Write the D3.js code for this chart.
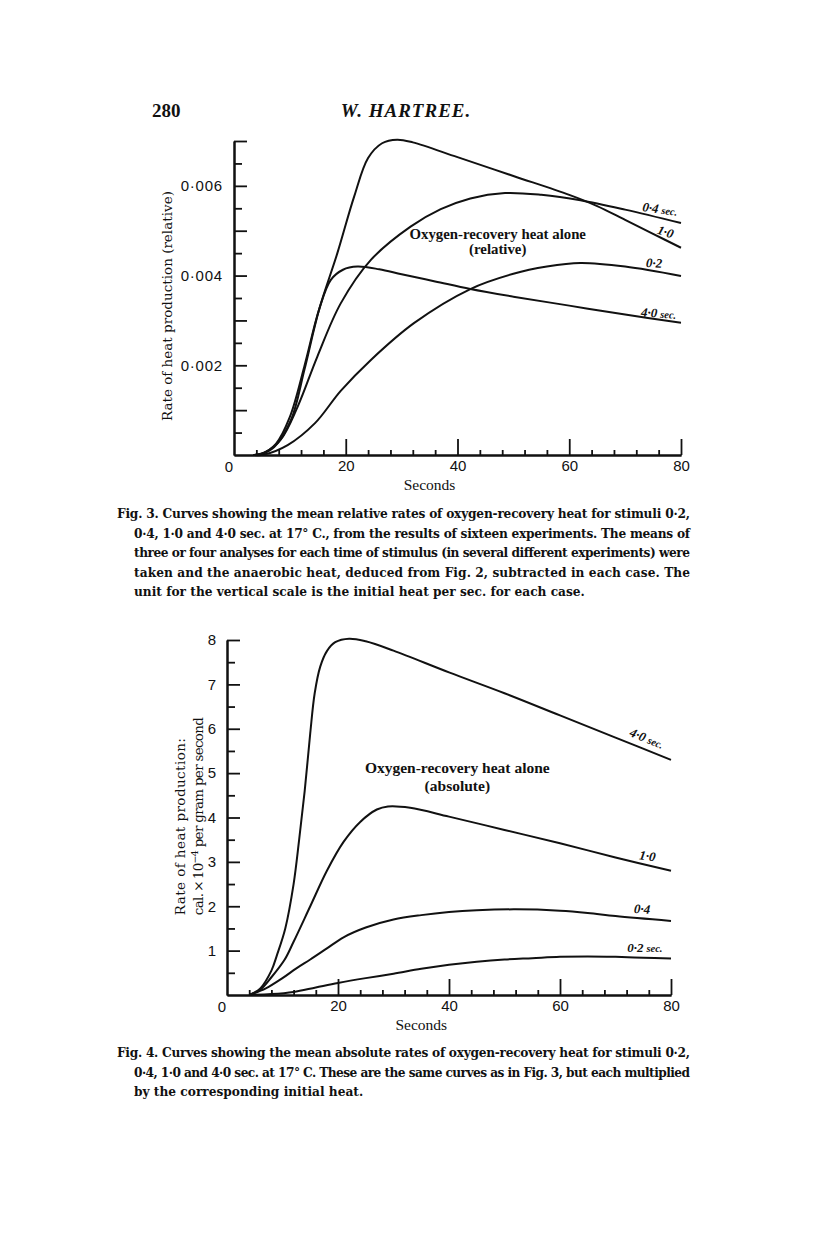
<!DOCTYPE html>
<html>
<head>
<meta charset="utf-8">
<script src="https://cdn.jsdelivr.net/npm/d3@7"></script>
<style>
  body { margin: 0; background: #fff; }
  svg { display: block; }
  .serif { font-family: "Liberation Serif", "DejaVu Serif", serif; fill: #111; }
  .wide { font-family: "DejaVu Serif", "Liberation Serif", serif; fill: #111; }
  .tick text { font-family: "Liberation Sans", Arial, sans-serif; font-size: 15px; fill: #111; }
</style>
</head>
<body>
<svg id="page" width="816" height="1258"></svg>
<script>
// Fig. 3 - relative rates (seconds, value)
let rel02 = [[3.5,0],[5.4,0.00001],[9.6,0.00022],[14.5,0.00071],[19.1,0.00143],[24.5,0.00212],[32.2,0.00294],[42.3,0.0037],[50,0.00404],[56,0.0042],[62,0.00428],[70,0.0042],[80,0.00399]];
let rel04 = [[3.5,0],[5.4,0.00005],[8.4,0.00035],[11.4,0.00108],[14.9,0.00219],[19.1,0.00338],[24.5,0.00435],[31.6,0.00509],[37,0.00548],[42.3,0.00572],[48.5,0.00584],[55,0.0058],[62,0.00568],[70,0.00547],[80,0.00517]];
let rel10 = [[3.5,0],[4.8,0.00002],[7.2,0.00018],[10.2,0.00078],[12.6,0.0019],[15.2,0.00323],[18.5,0.0045],[21.5,0.00576],[24,0.00662],[26.5,0.00695],[29.2,0.00703],[32,0.00697],[40,0.00664],[50,0.00622],[60,0.0058],[65,0.00555],[70,0.00524],[75,0.00493],[80,0.00462]];
let rel40 = [[3.5,0],[5,0.00003],[7.5,0.00025],[10,0.00085],[12.6,0.00198],[15.2,0.00323],[17.3,0.0039],[19.5,0.00413],[22.1,0.0042],[26,0.00414],[30,0.00403],[36,0.00387],[42.3,0.0037],[50,0.00353],[60,0.00333],[70,0.00313],[80,0.00295]];

// Fig. 4 - absolute rates (seconds, cal. x 10^-4 per gram per second)
let abs02 = [[4,0],[8,0.02],[12,0.07],[16,0.17],[20,0.27],[25,0.38],[30,0.48],[35,0.59],[40,0.68],[45,0.75],[50,0.8],[55,0.83],[60,0.86],[65,0.87],[70,0.86],[75,0.84],[80,0.82]];
let abs04 = [[4,0],[7,0.15],[10,0.38],[12.5,0.6],[15,0.8],[18,1.05],[21,1.3],[25,1.52],[30,1.7],[35,1.8],[40,1.87],[45,1.91],[52,1.93],[60,1.9],[65,1.85],[70,1.78],[80,1.67]];
let abs10 = [[4,0],[6,0.12],[8,0.4],[10.4,0.8],[12,1.2],[15,2],[18,2.8],[21,3.45],[24,3.9],[27,4.18],[29,4.25],[33,4.22],[40,4.02],[50,3.72],[60,3.42],[70,3.1],[80,2.8]];
let abs40 = [[4,0],[6,0.15],[8,0.55],[9,0.9],[10.5,1.5],[12,2.5],[13,3.5],[14,4.6],[15,5.9],[15.8,6.8],[16.8,7.4],[18,7.75],[19.5,7.95],[22,8.03],[25,7.97],[30,7.76],[40,7.27],[50,6.8],[60,6.3],[70,5.8],[80,5.3]];

let xMajor = [20, 40, 60, 80];
let xMinor = d3.range(4, 80, 4).filter(d => d % 20 != 0);
let topMajor = [0.001, 0.002, 0.003, 0.004, 0.005, 0.006, 0.007];
let topMinor = [0.0005, 0.0015, 0.0025, 0.0035, 0.0045, 0.0055, 0.0065];
let topLabels = [0.002, 0.004, 0.006];
let botMajor = [1, 2, 3, 4, 5, 6, 7, 8];
let botMinor = [0.5, 1.5, 2.5, 3.5, 4.5, 5.5, 6.5, 7.5];

let caption3 = [
  "Fig. 3.  Curves showing the mean relative rates of oxygen-recovery heat for stimuli 0·2,",
  "0·4, 1·0 and 4·0 sec. at 17° C., from the results of sixteen experiments. The means of",
  "three or four analyses for each time of stimulus (in several different experiments) were",
  "taken and the anaerobic heat, deduced from Fig. 2, subtracted in each case. The",
  "unit for the vertical scale is the initial heat per sec. for each case."
];
let caption4 = [
  "Fig. 4.  Curves showing the mean absolute rates of oxygen-recovery heat for stimuli 0·2,",
  "0·4, 1·0 and 4·0 sec. at 17° C. These are the same curves as in Fig. 3, but each multiplied",
  "by the corresponding initial heat."
];

let svg = d3.select("#page");
let dot = d => d.replace(".", "·");

// header
svg.append("text").attr("class", "serif").attr("x", 152).attr("y", 117)
  .attr("font-size", "19px").attr("font-weight", "bold").text("280");
svg.append("text").attr("class", "serif").attr("x", 406).attr("y", 117)
  .attr("text-anchor", "middle").attr("font-size", "19px").attr("font-weight", "bold")
  .attr("font-style", "italic").attr("letter-spacing", "1").text("W. HARTREE.");

function drawAxes(x, y, major, minor, labels, fmt) {
  let g = svg.append("g");
  // x axis, ticks pointing up
  g.append("g").attr("transform", "translate(0," + y.range()[0] + ")")
    .call(d3.axisTop(x).tickValues(xMinor).tickSize(5).tickFormat("").tickSizeOuter(0));
  g.append("g").attr("transform", "translate(0," + y.range()[0] + ")")
    .call(d3.axisTop(x).tickValues(xMajor).tickSize(16).tickFormat("").tickSizeOuter(0));
  g.append("g").attr("transform", "translate(0," + y.range()[0] + ")")
    .call(d3.axisBottom(x).tickValues(xMajor).tickSize(0).tickPadding(5).tickSizeOuter(0))
    .select(".domain").remove();
  // y axis, ticks pointing right
  g.append("g").attr("transform", "translate(" + x.range()[0] + ",0)")
    .call(d3.axisRight(y).tickValues(minor).tickSize(8).tickFormat("").tickSizeOuter(0));
  g.append("g").attr("transform", "translate(" + x.range()[0] + ",0)")
    .call(d3.axisRight(y).tickValues(major).tickSize(13).tickFormat("").tickSizeOuter(0));
  g.append("g").attr("class", "ylab").attr("transform", "translate(" + x.range()[0] + ",0)")
    .call(d3.axisLeft(y).tickValues(labels).tickSize(0).tickPadding(11).tickFormat(fmt).tickSizeOuter(0))
    .select(".domain").remove();
  g.selectAll("path.domain").attr("stroke", "#111").attr("stroke-width", 2);
  g.selectAll(".tick line").attr("stroke", "#111").attr("stroke-width", 1.8);
  // origin label
  g.append("text").attr("x", x(0) - 5).attr("y", y(0) + 17).attr("text-anchor", "middle")
    .attr("font-family", "Liberation Sans, Arial, sans-serif").attr("font-size", "15px")
    .attr("fill", "#111").text("0");
  // x label
  g.append("text").attr("class", "serif").attr("x", x(35)).attr("y", y(0) + 35)
    .attr("text-anchor", "middle").attr("font-size", "15.5px").text("Seconds");
  return g;
}

function drawCurves(x, y, series) {
  let line = d3.line().x(d => x(d[0])).y(d => y(d[1])).curve(d3.curveCatmullRom.alpha(0.5));
  svg.append("g").selectAll("path").data(series).join("path")
    .attr("d", line).attr("fill", "none").attr("stroke", "#111").attr("stroke-width", 2);
}

function curveLabel(x, y, t, v, rot, num, unit) {
  let tx = svg.append("text").attr("class", "serif")
    .attr("transform", "translate(" + x(t) + "," + y(v) + ") rotate(" + rot + ")")
    .attr("font-style", "italic").attr("font-weight", "bold").attr("font-size", "13px").text(num);
  if (unit) tx.append("tspan").attr("font-size", "10.5px").attr("dx", 3).text(unit);
}

function drawCaption(lines, y0) {
  lines.forEach((s, i) => {
    let t = svg.append("text").attr("class", "wide").attr("x", i == 0 ? 117 : 134)
      .attr("y", y0 + i * 19.6).attr("font-size", "12.2px").attr("font-weight", "bold").text(s);
    if (i < lines.length - 1) t.attr("textLength", i == 0 ? 573 : 556).attr("lengthAdjust", "spacing");
  });
}

// ---- Fig. 3 ----
let xTop = d3.scaleLinear().domain([0, 80]).range([234, 681]);
let yTop = d3.scaleLinear().domain([0, 0.007]).range([455, 141]);
let gTop = drawAxes(xTop, yTop, topMajor, topMinor, topLabels, d => dot(d3.format(".3f")(d)));
gTop.selectAll(".ylab .tick text").attr("letter-spacing", 0.8);
drawCurves(xTop, yTop, [rel02, rel04, rel10, rel40]);
svg.append("text").attr("class", "wide").attr("transform", "translate(172," + yTop(0.00332) + ") rotate(-90)")
  .attr("text-anchor", "middle").attr("font-size", "13.5px").attr("textLength", 230)
  .text("Rate of heat production (relative)");
svg.append("text").attr("class", "serif").attr("x", xTop(47.2)).attr("y", yTop(0.00481))
  .attr("text-anchor", "middle").attr("font-size", "14.8px").attr("font-weight", "bold").text("Oxygen-recovery heat alone");
svg.append("text").attr("class", "serif").attr("x", xTop(47.2)).attr("y", yTop(0.00447))
  .attr("text-anchor", "middle").attr("font-size", "14.8px").attr("font-weight", "bold").text("(relative)");
curveLabel(xTop, yTop, 73.0, 0.00544, 8, "0·4", "sec.");
curveLabel(xTop, yTop, 75.6, 0.00494, 18, "1·0");
curveLabel(xTop, yTop, 73.7, 0.00419, 3, "0·2");
curveLabel(xTop, yTop, 72.8, 0.00309, 4, "4·0", "sec.");
drawCaption(caption3, 518);

// ---- Fig. 4 ----
let xBot = d3.scaleLinear().domain([0, 80]).range([227, 671]);
let yBot = d3.scaleLinear().domain([0, 8]).range([995, 640]);
drawAxes(xBot, yBot, botMajor, botMinor, [1, 2, 3, 4, 5, 6, 7, 8], d => d);
drawCurves(xBot, yBot, [abs02, abs04, abs10, abs40]);
svg.append("text").attr("class", "wide").attr("font-size", "13.5px")
  .attr("transform", "translate(185," + yBot(1.8) + ") rotate(-90)")
  .attr("textLength", 177).text("Rate of heat production:");
let l2 = svg.append("text").attr("class", "wide").attr("font-size", "13.5px")
  .attr("transform", "translate(203," + yBot(1.8) + ") rotate(-90)")
  .attr("textLength", 198).text("cal.\u2009×\u200910");
l2.append("tspan").attr("font-size", "9.5px").attr("dy", -5).text("−4");
l2.append("tspan").attr("dy", 5).text(" per gram per second");
svg.append("text").attr("class", "serif").attr("x", xBot(41.5)).attr("y", yBot(5.0))
  .attr("text-anchor", "middle").attr("font-size", "15.5px").attr("font-weight", "bold").text("Oxygen-recovery heat alone");
svg.append("text").attr("class", "serif").attr("x", xBot(41.5)).attr("y", yBot(4.6))
  .attr("text-anchor", "middle").attr("font-size", "15.5px").attr("font-weight", "bold").text("(absolute)");
curveLabel(xBot, yBot, 72.4, 5.84, 22, "4·0", "sec.");
curveLabel(xBot, yBot, 74.2, 3.06, 8, "1·0");
curveLabel(xBot, yBot, 73.3, 1.85, 3, "0·4");
curveLabel(xBot, yBot, 72.1, 0.98, 0, "0·2", "sec.");
drawCaption(caption4, 1057);
</script>
</body>
</html>
